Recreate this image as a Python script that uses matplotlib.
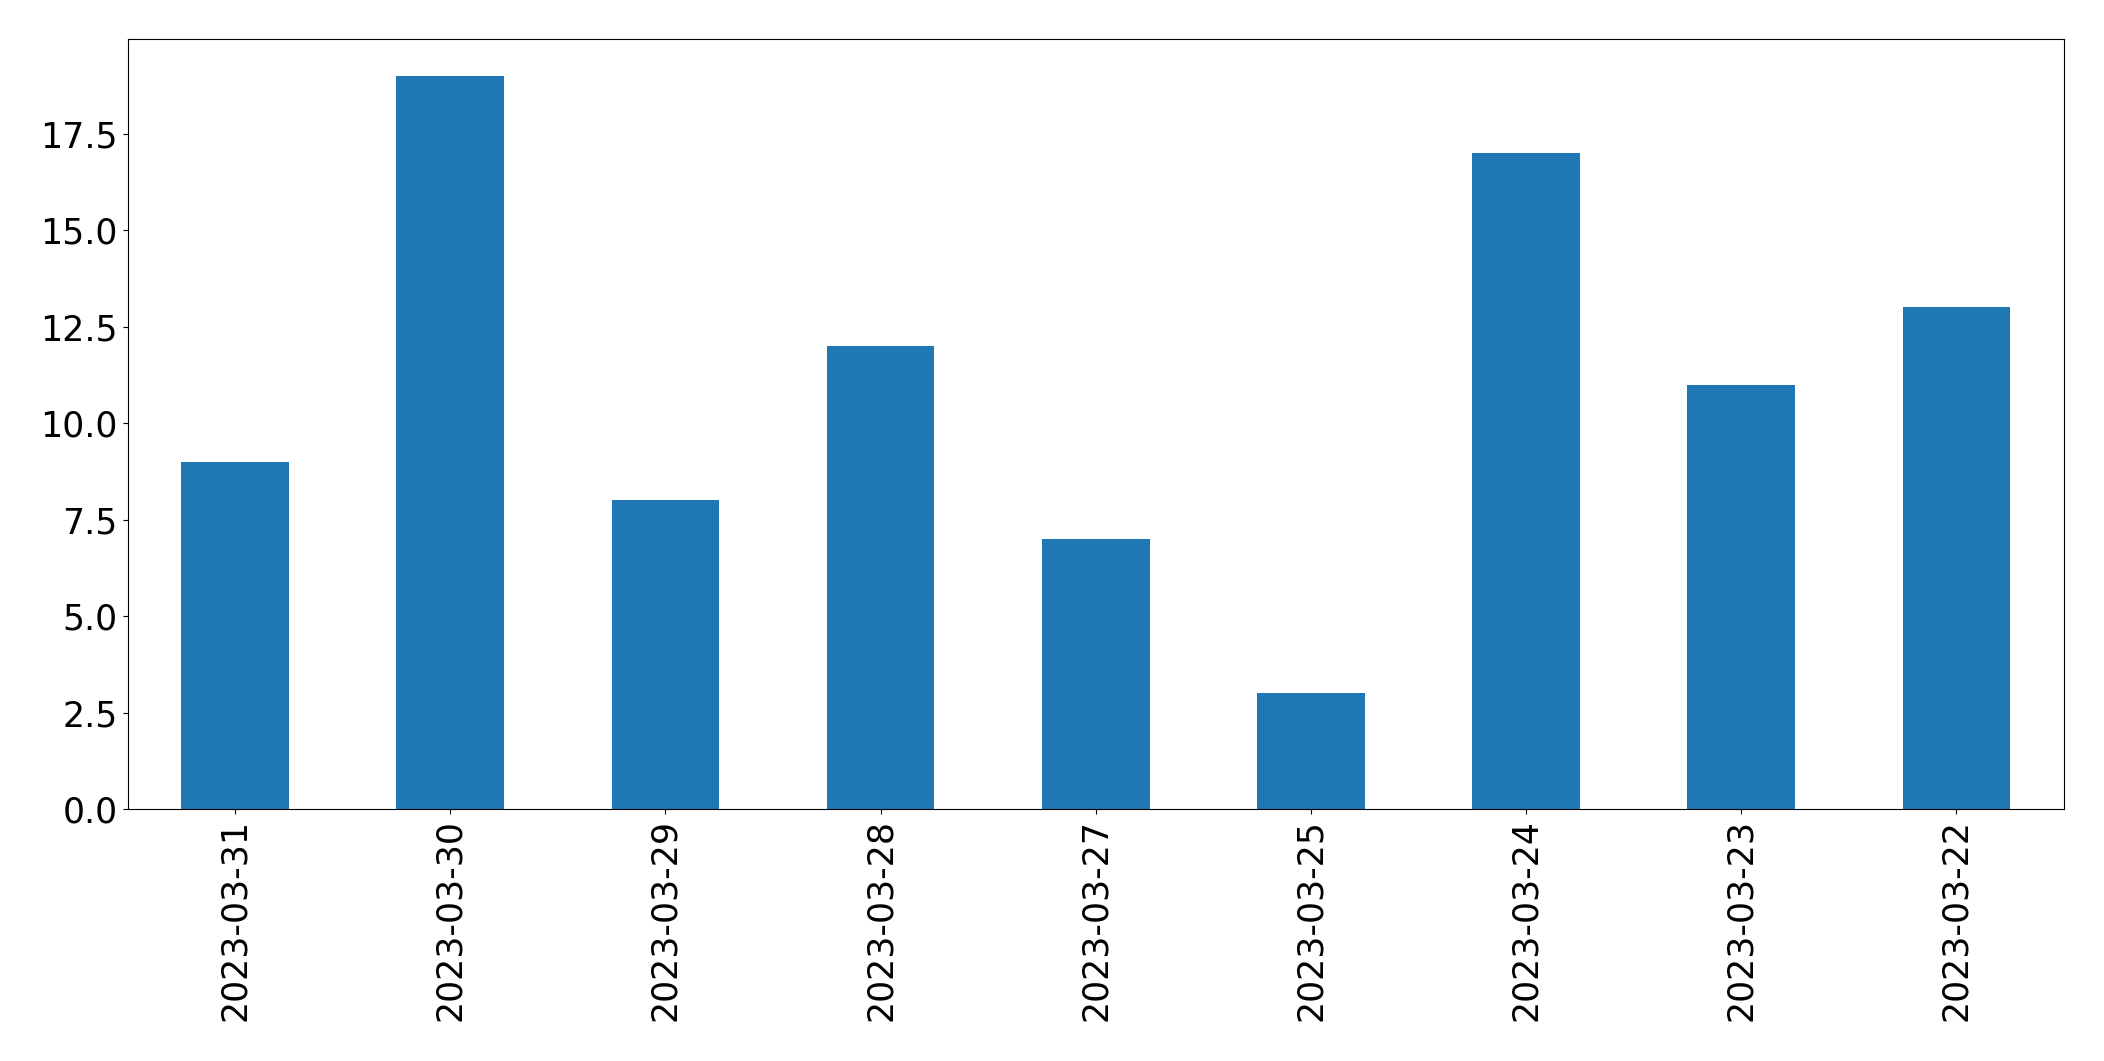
import matplotlib
matplotlib.use("Agg")
import matplotlib.pyplot as plt
import pandas as pd

dates = ["2023-03-31", "2023-03-30", "2023-03-29", "2023-03-28", "2023-03-27",
         "2023-03-25", "2023-03-24", "2023-03-23", "2023-03-22"]
counts = [9, 19, 8, 12, 7, 3, 17, 11, 13]

s = pd.Series(counts, index=dates)

fig = plt.figure(figsize=(21.04, 10.61), dpi=100)
ax = fig.add_axes([0.0606, 0.2375, 0.9204, 0.7255])
s.plot(kind="bar", ax=ax, color="#1f77b4", fontsize=25)

fig.savefig("out.png", dpi=100)
